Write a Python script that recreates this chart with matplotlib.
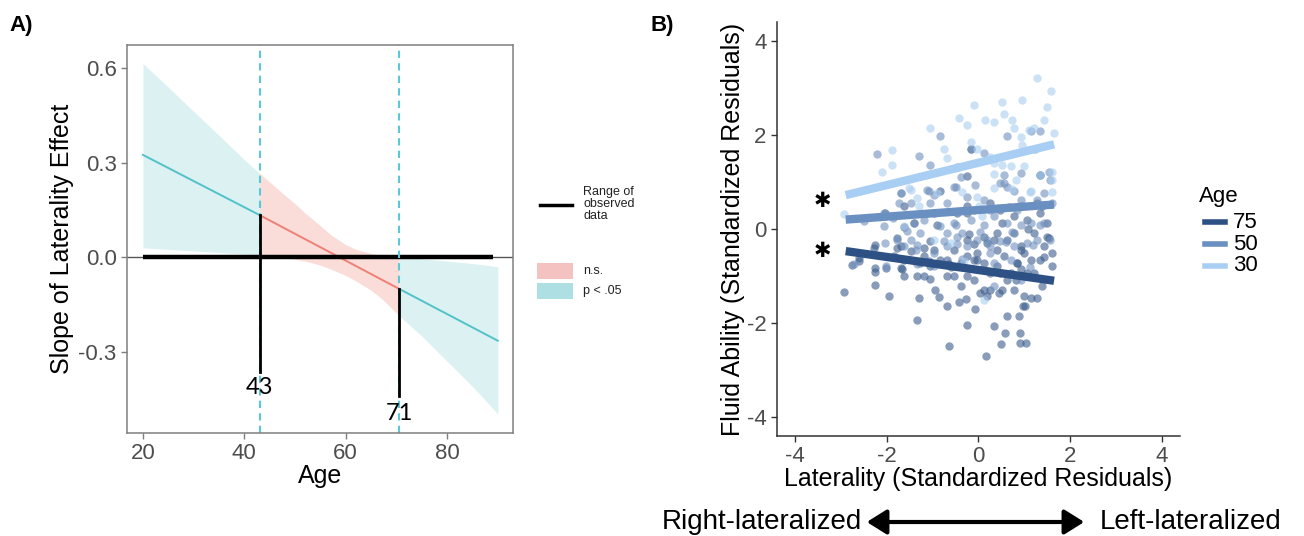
import matplotlib.pyplot as plt
import matplotlib.patches as mpatches
import matplotlib.lines as mlines
import numpy as np

plt.rcParams['font.family'] = ['Liberation Sans', 'DejaVu Sans']
plt.rcParams['axes.unicode_minus'] = False

# ---------------- Panel A data (Johnson-Neyman plot) ----------------
jn_ages = [20, 25, 30, 35, 40, 43, 46, 48, 50, 52, 55, 57, 60, 62, 65, 67, 70.5,
           75, 80, 85, 90]
band_upper = [0.615, 0.54, 0.463, 0.387, 0.31, 0.267, 0.225, 0.197, 0.17, 0.14, 0.10,
              0.072, 0.04, 0.025, 0.012, 0.007, 0.002, -0.005, -0.012, -0.02, -0.03]
band_lower = [0.03, 0.025, 0.02, 0.015, 0.01, 0.007, 0.002, -0.002, -0.006, -0.012,
              -0.025, -0.037, -0.058, -0.075, -0.105, -0.13, -0.185, -0.25, -0.33,
              -0.41, -0.497]
line_ages = [20, 43, 70.5, 90]
line_slope = [0.325, 0.134, -0.10, -0.265]
jn_points = [43, 70.5]
jn_labels = ['43', '71']
obs_range = [20, 89]

# ---------------- Panel B data (simple slopes) ----------------
age_groups = ['75', '50', '30']
line_x = [-2.9, 1.65]
line_y = {'75': [-0.47, -1.1], '50': [0.2, 0.52], '30': [0.72, 1.8]}

light_x = [1.28, 1.59, 0.95, 0.52, -0.10, -1.05, -0.43, -0.25, 0.15, 0.33, 0.74, 0.55,
           0.77, 1.10, 1.21, 1.64, 1.50, 1.43, 0.92, 0.95, -0.16, -0.03, -1.88, -2.10,
           -1.88, -0.76, -0.68, 0.26, 0.33, 0.52, 0.70, 0.99, 1.61, 1.61, 1.14, 0.81,
           0.33, -1.52, -1.34, -0.03, 0.01, 0.08, -2.94, -1.63, -0.98, -0.61, -0.32, 0.12,
           -0.36, 0.33, 0.73, 1.35, 1.61, 1.13, -1.48, -0.90, -1.30]
light_y = [3.2, 2.94, 2.75, 2.70, 2.63, 2.14, 2.35, 2.21, 2.32, 2.28, 2.31, 2.45,
           2.14, 2.10, 2.14, 2.03, 2.60, 2.31, 1.96, 1.78, 1.85, 1.71, 1.68, 1.22,
           1.36, 1.69, 1.50, 1.54, 1.40, 1.36, 1.33, 1.33, 1.22, 1.04, 0.80, 1.04,
           0.87, 0.87, 0.66, 0.69, 0.48, 0.27, 0.32, 0.06, -0.23, -0.30, -0.69, -1.50,
           0.78, 1.17, 0.86, 1.15, 0.79, 0.79, 0.83, 0.76, 0.48]

mid_x = [-2.21, -1.30, -0.84, -0.17, 0.12, 0.63, 1.14, 1.35, 1.23, -1.05, -0.47, 0.55,
         1.35, 1.54, -1.70, -1.48, -1.12, -0.98, -0.68, -0.54, -0.25, -0.10, 0.48, 0.63,
         0.77, 0.92, 1.28, 1.43, 1.61, -2.07, -2.50, -1.85, -1.41, -1.27, -0.83, -0.54,
         -0.36, -0.17, 0.12, 0.33, 0.63, 0.92, 1.14, 1.43, 1.57, -2.07, -1.78, -1.63,
         -1.34, -0.98, -0.68, -0.47, -0.25, -0.03, 0.26, 0.48, 0.77, 1.06, 1.28, 0.33,
         0.70, -0.98, 0.33, 0.92,
         -0.39, -0.50, -0.07, 0.55, 0.92, 1.57, 0.11, 0.26, 0.84, -0.50, 0.04, 0.73,
         1.35, -0.46, 0.19, 0.59, 1.20, -0.36, 0.26, 1.13, -1.70, -1.08, -1.74, -1.05,
         -1.87, -1.19, -0.68, -1.56, -1.48, -0.76, -2.05, -1.37, -2.72, -2.01, -1.34]
mid_y = [1.59, 1.55, 1.98, 1.71, 1.62, 1.98, 2.09, 2.09, 1.69, 1.36, 1.31, 1.15,
         1.15, 1.22, 0.76, 0.55, 0.83, 0.73, 0.55, 0.90, 0.69, 0.41, 0.97, 0.90,
         0.80, 0.62, 0.62, 0.76, 0.55, 0.34, 0.16, 0.27, 0.13, -0.08, 0.06, 0.13,
         -0.08, 0.20, 0.09, 0.27, 0.13, 0.09, 0.13, 0.13, -0.23, 0.06, -0.23, -0.37,
         -0.33, -0.51, -0.37, -0.16, -0.37, -0.23, -0.37, -0.26, -0.37, -0.30, -0.23, -0.72,
         -0.65, -0.79, -1.22, -1.08,
         1.11, 0.90, 0.94, 0.97, 1.20, 1.04, 0.62, 0.40, 0.40, 0.08, -0.06, -0.06,
         0.08, -0.31, -0.23, -0.27, -0.34, -0.63, -0.52, -0.80, 0.76, 0.80, 0.55, 0.55,
         0.23, 0.19, -0.09, -0.05, -0.23, -0.26, -0.30, -0.44, -0.75, -0.78, -0.75]

dark_x = [-2.94, -2.77, -2.62, -2.29, -2.25, -2.25, -2.03, -1.96, -1.67, -1.63, -1.34, -1.30,
          -1.19, -1.35, -1.05, -0.94, -0.87, -0.68, -0.65, -0.43, -0.27, -0.25, -0.07, 0.17,
          0.33, 0.49, 0.57, 0.63, 0.88, 0.90, 0.90, 1.04, 0.97, 1.02, 0.99, 1.14,
          1.28, 1.39, 1.61, 1.54, 1.50, 1.35, 1.39, 0.26, 0.44, 0.52, 0.63, 0.77,
          0.81, 0.12, 0.04, 0.19, -0.25, -0.10, -0.39, -0.54, -0.68, -1.05, -1.63, -1.85,
          -1.48, -1.19, -0.83, -0.39, -0.54, -0.10, 0.12, 0.26, 0.41, 0.55, 0.70, 0.84,
          0.99, 1.14, 1.21, 1.35, 1.43, 1.61, 0.92, 1.06, 0.48, 0.19, 0.41, 0.77,
          1.21, 0.92, 0.63, -0.03, -0.25, -0.68, -0.98, -1.27, -1.70, 0.33, -0.25, 0.12,
          0.77, 1.06, 0.48, 0.92, 0.26, -0.25, -0.47, -0.98, -1.63, -0.83, -0.25, -0.17, 1.35,
          -0.25, 0.66, 1.28, -0.21, 0.52, 1.09, 1.50, -0.10, 0.41, 0.92, 1.42, -0.03,
          0.84, -0.61, -2.05, -1.41, -0.90, -1.63, -1.78, -1.05, -2.27, -1.78, -1.19, -2.61,
          -2.27, -1.70, -1.08, -0.65]
dark_y = [-1.34, -0.76, -0.69, -0.40, -0.92, -1.20, -0.83, -1.43, -0.86, -1.00, -1.00, -1.46,
          -1.00, -1.94, -1.07, -1.29, -1.45, -1.64, -2.49, -1.55, -1.49, -2.05, -1.71, -2.69,
          -2.06, -2.45, -2.22, -1.85, -1.85, -2.21, -2.43, -2.43, -1.64, -1.64, -1.43, -1.46,
          -1.46, -1.22, -0.79, -0.19, 0.13, 0.34, 0.48, -1.29, -1.36, -1.29, -1.08, -1.29,
          -1.08, -1.29, -1.36, -1.43, -1.00, -1.08, -1.22, -1.00, -1.00, -0.79, -0.65, -0.58,
          -0.47, -0.58, -0.65, -0.72, -0.44, -0.65, -0.72, -0.93, -0.79, -0.58, -0.93, -0.72,
          -0.51, -0.65, -0.93, -0.65, -0.37, -0.51, -0.86, -0.93, -0.93, -0.30, -0.08, -0.08,
          -0.08, -0.37, -0.23, -0.51, -0.58, -0.65, -0.44, -0.72, -0.37, -0.23, -0.23, -0.16,
          0.27, 0.20, 0.41, 0.48, 0.55, 0.48, 0.34, 0.34, 0.48, 0.80, 1.12, 1.71, 1.15,
          0.33, 0.47, 0.55, -0.10, 0.12, 0.01, -0.16, -0.31, -0.45, -0.45, -0.59, -0.66,
          -0.73, -0.80, 0.34, 0.12, 0.09, 0.05, -0.19, -0.26, -0.33, -0.40, -0.40, -0.61,
          -0.82, -0.82, -0.68, -0.75]

teal_fill = '#dcf1f2'
pink_fill = '#fadcd9'
teal_line = '#52c2c9'
red_line = '#ee8075'
grey_txt = '#4d4d4d'
group_col = {'75': '#2d5085', '50': '#6a8fc1', '30': '#a8cef4'}
point_col = {'75': '#3a5c8c', '50': '#6f8fbd', '30': '#a9cdf0'}

fig = plt.figure(figsize=(13.04, 5.36), dpi=100)

# ======================= Panel A =======================
axA = fig.add_axes([127 / 1304, 1 - 433 / 536, 386 / 1304, 388 / 536])
ages = np.array(jn_ages)
up = np.array(band_upper)
lo = np.array(band_lower)
left = ages <= jn_points[0]
mid = (ages >= jn_points[0]) & (ages <= jn_points[1])
right = ages >= jn_points[1]
axA.fill_between(ages[left], lo[left], up[left], color=teal_fill, lw=0)
axA.fill_between(ages[mid], lo[mid], up[mid], color=pink_fill, lw=0)
axA.fill_between(ages[right], lo[right], up[right], color=teal_fill, lw=0)

axA.plot(line_ages[0:2], line_slope[0:2], color=teal_line, lw=1.4)
axA.plot(line_ages[1:3], line_slope[1:3], color=red_line, lw=1.4)
axA.plot(line_ages[2:4], line_slope[2:4], color=teal_line, lw=1.4)

axA.axhline(0, color='#555555', lw=1.0)
axA.plot(obs_range, [0, 0], color='black', lw=3.2, solid_capstyle='butt')
for p in jn_points:
    axA.axvline(p, color='#5cc8d6', lw=1.5, ls=(0, (3.5, 2.5)))

# black drop lines + labels
axA.plot([jn_points[0], jn_points[0]], [line_slope[1], -0.365], color='black', lw=2)
axA.plot([jn_points[1], jn_points[1]], [line_slope[2], -0.44], color='black', lw=2)
axA.text(jn_points[0], -0.415, jn_labels[0], ha='center', va='center', fontsize=17,
         family=['Lato', 'DejaVu Sans'], color='black')
axA.text(jn_points[1], -0.495, jn_labels[1], ha='center', va='center', fontsize=17,
         family=['Lato', 'DejaVu Sans'], color='black')

axA.set_xlim(16.85, 93.0)
axA.set_ylim(-0.558, 0.674)
axA.set_xticks([20, 40, 60, 80])
axA.set_yticks([-0.3, 0.0, 0.3, 0.6])
axA.set_yticklabels(['-0.3', '0.0', '0.3', '0.6'])
axA.tick_params(labelsize=16, colors=grey_txt, length=4, width=1, color='#7f7f7f')
for s in axA.spines.values():
    s.set_color('#7f7f7f')
    s.set_linewidth(1.1)
axA.set_xlabel('Age', fontsize=18, labelpad=0)
axA.set_ylabel('Slope of Laterality Effect', fontsize=18, labelpad=3)

# Panel A legend (drawn in figure coordinates)
fig.add_artist(mlines.Line2D([540 / 1304, 572 / 1304], [1 - 205 / 536] * 2,
                             color='black', lw=2.5))
fig.text(583 / 1304, 1 - 186 / 536, 'Range of\nobserved\ndata', fontsize=9,
         va='top', ha='left', color='#222222', linespacing=1.0)
fig.add_artist(mpatches.Rectangle((537 / 1304, 1 - 279 / 536), 36 / 1304, 16 / 536,
                                  color='#f4c3c1', lw=0))
fig.add_artist(mpatches.Rectangle((537 / 1304, 1 - 299 / 536), 36 / 1304, 16 / 536,
                                  color='#aee0e3', lw=0))
fig.text(583 / 1304, 1 - 271 / 536, 'n.s.', fontsize=9, va='center', color='#222222')
fig.text(583 / 1304, 1 - 291 / 536, 'p < .05', fontsize=9, va='center', color='#222222')

# ======================= Panel B =======================
axB = fig.add_axes([777 / 1304, 1 - 436 / 536, 403 / 1304, 414 / 536])
axB.scatter(dark_x, dark_y, s=36, color=point_col['75'], alpha=0.6, lw=0)
axB.scatter(mid_x, mid_y, s=36, color=point_col['50'], alpha=0.6, lw=0)
axB.scatter(light_x, light_y, s=36, color=point_col['30'], alpha=0.6, lw=0)
for g in ['30', '50', '75']:
    axB.plot(line_x, line_y[g], color=group_col[g], lw=6, solid_capstyle='butt')

axB.text(-3.41, 0.585, '✱', fontsize=15, ha='center', va='center',
         family='DejaVu Sans', color='black')
axB.text(-3.41, -0.475, '✱', fontsize=15, ha='center', va='center',
         family='DejaVu Sans', color='black')

axB.set_xlim(-4.4, 4.4)
axB.set_ylim(-4.4, 4.4)
axB.set_xticks([-4, -2, 0, 2, 4])
axB.set_yticks([-4, -2, 0, 2, 4])
axB.tick_params(labelsize=16, colors=grey_txt, length=4, width=1, color='#333333')
for side in ['top', 'right']:
    axB.spines[side].set_visible(False)
for side in ['left', 'bottom']:
    axB.spines[side].set_color('#333333')
    axB.spines[side].set_linewidth(1.1)
axB.set_xlabel('Laterality (Standardized Residuals)', fontsize=18, labelpad=0)
axB.set_ylabel('Fluid Ability (Standardized Residuals)', fontsize=18, labelpad=1)

# Age legend
fig.text(1199 / 1304, 1 - 196 / 536, 'Age', fontsize=16, va='center', ha='left')
for i, g in enumerate(age_groups):
    yy = 1 - (222 + 22 * i) / 536
    fig.add_artist(mlines.Line2D([1205 / 1304, 1225 / 1304], [yy, yy],
                                 color=group_col[g], lw=4))
    fig.text(1233 / 1304, yy, g, fontsize=16, va='center', ha='left')

# panel tags
fig.text(9 / 1304, 1 - 25 / 536, 'A)', fontsize=16, fontweight='bold', va='center')
fig.text(651 / 1304, 1 - 25 / 536, 'B)', fontsize=16, fontweight='bold', va='center')

# lateralization arrow
fig.text(862 / 1304, 1 - 522 / 536, 'Right-lateralized', fontsize=20, ha='right',
         va='center')
fig.text(1100 / 1304, 1 - 522 / 536, 'Left-lateralized', fontsize=20, ha='left',
         va='center')
fig.add_artist(mpatches.FancyArrowPatch((864 / 1304, 1 - 522 / 536),
                                        (1087 / 1304, 1 - 522 / 536),
                                        transform=fig.transFigure,
                                        arrowstyle='<|-|>,head_length=8,head_width=5',
                                        color='black', lw=3, mutation_scale=1.5))

fig.savefig('out.png', dpi=100)
